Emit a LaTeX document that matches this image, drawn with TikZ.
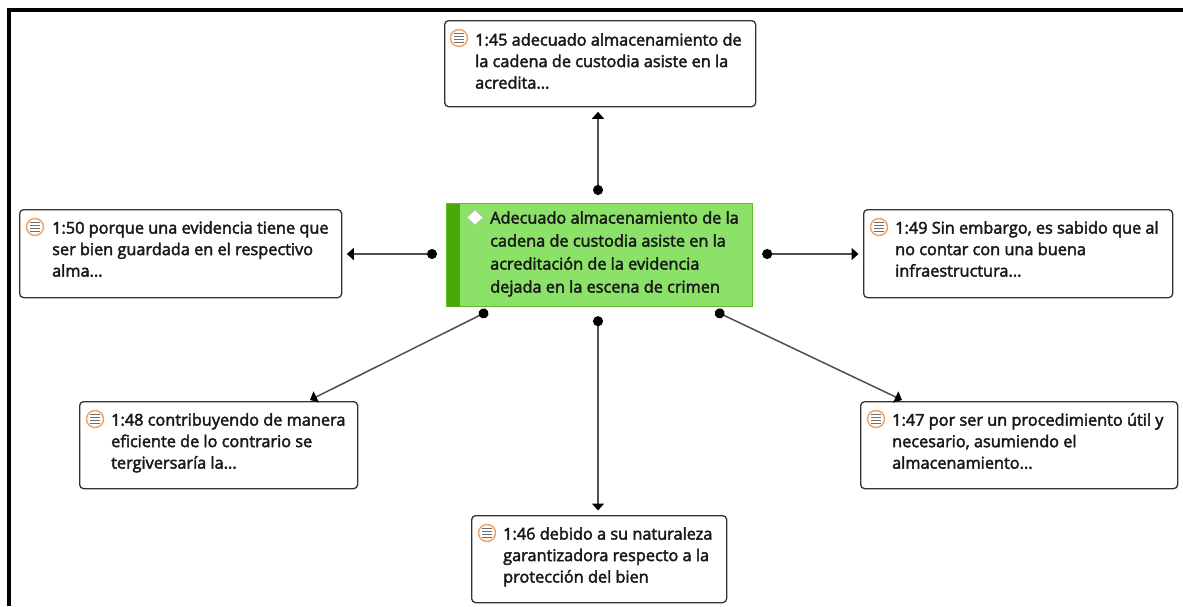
\documentclass[tikz,border=0pt]{standalone}
\usepackage{fontspec}
\setmainfont{Open Sans}
\newfontfamily\qfont{Open Sans}[FakeBold=2.5]
\usetikzlibrary{arrows.meta,calc}
\definecolor{boxline}{RGB}{50,50,50}
\definecolor{linkcol}{RGB}{80,80,80}
\definecolor{txt}{RGB}{25,25,25}
\definecolor{codefill}{RGB}{140,226,104}
\definecolor{codeline}{RGB}{95,187,46}
\definecolor{codestripe}{RGB}{74,168,10}
\definecolor{iconorange}{RGB}{240,160,96}
\definecolor{icongray}{RGB}{110,110,110}
\tikzset{
  quotebox/.style={draw=boxline, line width=1.3pt, rounded corners=4pt, fill=white, inner sep=0pt, anchor=north west},
  quotetext/.style={anchor=north west, inner sep=0pt, align=left, text=txt, font=\qfont\fontsize{16.3}{21.5}\selectfont},
  codetext/.style={anchor=north west, inner sep=0pt, align=left, text=txt, font=\qfont\fontsize{16.3}{23}\selectfont},
  link/.style={draw=linkcol, line width=1.5pt, shorten >=4.5pt,
    {Circle[length=10pt,black]}-{Triangle[length=7pt,width=12pt,black]}},
}
\newcommand{\qicon}[1]{%
  \fill[white,draw=iconorange,line width=1.4pt] (#1) circle (8.5pt);
  \foreach \dy in {-4.5,-1.5,1.5,4.5} {\draw[icongray,line width=1pt] ($(#1)+(-5,\dy)$) -- ($(#1)+(5,\dy)$);}
}
\begin{document}
\begin{tikzpicture}[x=1pt,y=-1pt]
\useasboundingbox (0,0) rectangle (1183,606);
% frame
\draw[black,line width=4pt] (9,606) -- (9,10) -- (1183,10);

% central code node
\node[draw=codeline, line width=1.2pt, fill=codefill, anchor=north west, minimum width=306pt, minimum height=103pt, inner sep=0pt] (c) at (446,203) {};
\fill[codestripe] ([xshift=0.6pt,yshift=-0.6pt]c.north west) rectangle ([xshift=14pt,yshift=0.6pt]c.south west);
\draw[white,fill=white,draw=black!25,line width=0.6pt] (467,217.5) -- (475,210) -- (483,217.5) -- (475,225) -- cycle;
\node[codetext] (ct) at (490,211) {Adecuado almacenamiento de la\\cadena de custodia asiste en la\\acreditación de la evidencia\\dejada en la escena de crimen};

% quotation boxes
\node[quotebox, minimum width=311pt, minimum height=86pt] (q45) at (444,20) {};
\qicon{459,38}
\node[quotetext] (t45) at (475,33) {1:45 adecuado almacenamiento de\\la cadena de custodia asiste en la\\acredita...};

\node[quotebox, minimum width=322pt, minimum height=88pt] (q50) at (19,209) {};
\qicon{35,227}
\node[quotetext] (t50) at (52,221) {1:50 porque una evidencia tiene que\\ser bien guardada en el respectivo\\alma...};

\node[quotebox, minimum width=309pt, minimum height=88pt] (q49) at (863,209) {};
\qicon{879,227}
\node[quotetext] (t49) at (895,221) {1:49 Sin embargo, es sabido que al\\no contar con una buena\\infraestructura...};

\node[quotebox, minimum width=278pt, minimum height=87pt] (q48) at (79,401) {};
\qicon{95,419}
\node[quotetext] (t48) at (111,413) {1:48 contribuyendo de manera\\eficiente de lo contrario se\\tergiversaría la...};

\node[quotebox, minimum width=317pt, minimum height=87pt] (q47) at (860,401) {};
\qicon{876,419}
\node[quotetext] (t47) at (892,413) {1:47 por ser un procedimiento útil y\\necesario, asumiendo el\\almacenamiento...};

\node[quotebox, minimum width=255pt, minimum height=87pt] (q46) at (471,515) {};
\qicon{487,533}
\node[quotetext] (t46) at (503,527) {1:46 debido a su naturaleza\\garantizadora respecto a la\\protección del bien};

% connectors
\draw[link] ([yshift=8pt]c.north -| 598,0) -- (q45.south -| 598,0);
\draw[link] ([xshift=-9pt]c.west |- 0,254) -- (q50.east |- 0,254);
\draw[link] ([xshift=9pt]c.east |- 0,254) -- (q49.west |- 0,254);
\draw[link] ([yshift=-9pt]c.south -| 598,0) -- (q46.north -| 598,0);
\draw[link, shorten >=0pt] ([xshift=42pt,yshift=-4pt]c.south west) -- ([xshift=231pt,yshift=1pt]q48.north west);
\draw[link, shorten >=0pt] ([xshift=-38pt,yshift=-4pt]c.south east) -- ([xshift=42pt,yshift=1pt]q47.north west);
\end{tikzpicture}
\end{document}
